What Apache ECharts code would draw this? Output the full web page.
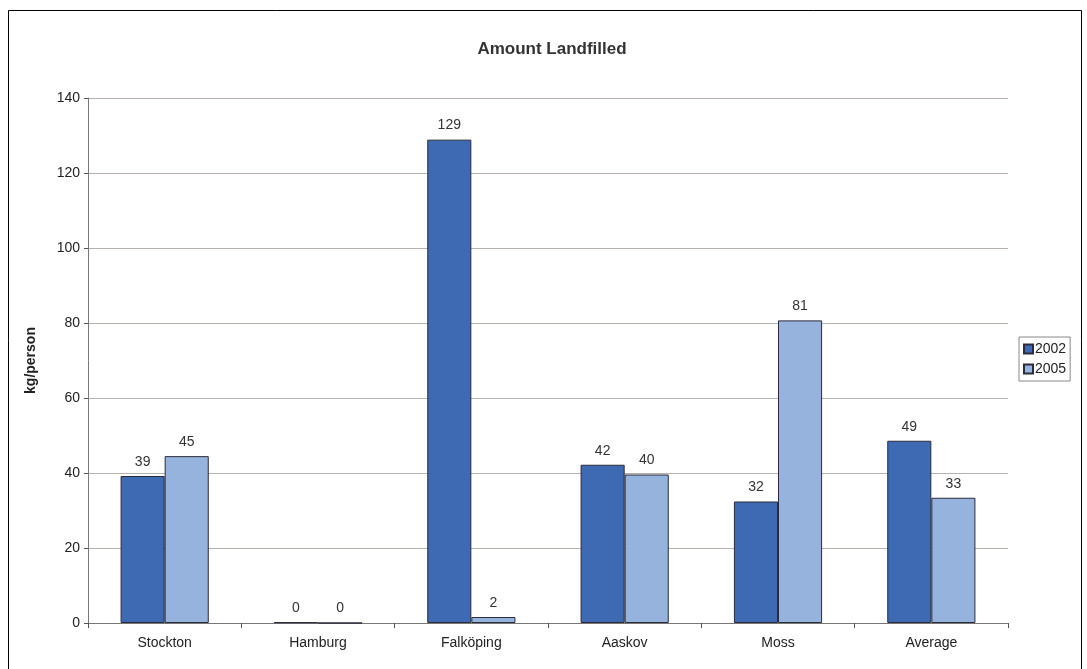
<!DOCTYPE html>
<html><head><meta charset="utf-8">
<script src="https://cdn.jsdelivr.net/npm/echarts@6/dist/echarts.min.js"></script>
<style>html,body{margin:0;padding:0;background:#fff}#c{width:1087px;height:669px}</style>
</head><body><div id="c"></div>
<script>
var categories = ['Stockton', 'Hamburg', 'Falköping', 'Aaskov', 'Moss', 'Average'];
var values2002 = [39.2, 0.2, 128.9, 42.2, 32.4, 48.6];
var values2005 = [44.5, 0, 1.6, 39.6, 80.7, 33.4];
var seriesNames = ['2002', '2005'];
var yTicks = [0, 20, 40, 60, 80, 100, 120, 140];

var chart = echarts.init(document.getElementById('c'), null, {renderer: 'canvas'});
var font = 'Liberation Sans, Arial, sans-serif';
var lbl = {show: true, position: 'top', distance: 7, color: '#333', fontSize: 14, fontFamily: font,
  formatter: function (p) { return Math.round(p.value); }};
chart.setOption({
  animation: false,
  textStyle: {fontFamily: font},
  graphic: [{type: 'rect', shape: {x: 8.5, y: 10.5, width: 1073, height: 680}, style: {fill: 'none', stroke: '#000', lineWidth: 1}, z: 100}],
  title: {text: 'Amount Landfilled', left: 547, top: 36, textAlign: 'center',
    textStyle: {fontSize: 17, fontWeight: 'bold', color: '#333', fontFamily: font}},
  legend: {orient: 'vertical', left: 1019, top: 337, itemWidth: 9, itemHeight: 9, itemGap: 6,
    padding: [5, 4, 5, 4], borderColor: '#888', borderWidth: 1, icon: 'rect',
    textStyle: {fontSize: 14, color: '#222', padding: [0, 0, 0, -3], fontFamily: font},
    data: seriesNames},
  grid: {left: 88, right: 79, top: 98, bottom: 46, containLabel: false},
  xAxis: {type: 'category', data: categories,
    axisLine: {lineStyle: {color: '#777'}},
    axisTick: {show: true, alignWithLabel: false, length: 5, lineStyle: {color: '#555'}},
    axisLabel: {color: '#222', fontSize: 14, margin: 13, fontFamily: font}},
  yAxis: {type: 'value', min: yTicks[0], max: yTicks[yTicks.length - 1], interval: 20,
    name: 'kg/person', nameLocation: 'middle', nameGap: 50, nameRotate: 90,
    nameTextStyle: {fontWeight: 'bold', fontSize: 14, color: '#222', fontFamily: font},
    axisLine: {show: true, lineStyle: {color: '#777'}},
    axisTick: {show: true, length: 4, lineStyle: {color: '#555'}},
    splitLine: {lineStyle: {color: '#b8afaf', width: 1}},
    axisLabel: {color: '#222', fontSize: 14, margin: 8, fontFamily: font}},
  series: [
    {name: seriesNames[0], type: 'bar', data: values2002, barGap: '0%', barCategoryGap: '42.5%',
      itemStyle: {color: '#3D6AB3', borderColor: '#2b2b3a', borderWidth: 1}, label: lbl},
    {name: seriesNames[1], type: 'bar', data: values2005,
      itemStyle: {color: '#95B3DC', borderColor: '#2b2b3a', borderWidth: 1}, label: lbl}
  ]
});
</script></body></html>
